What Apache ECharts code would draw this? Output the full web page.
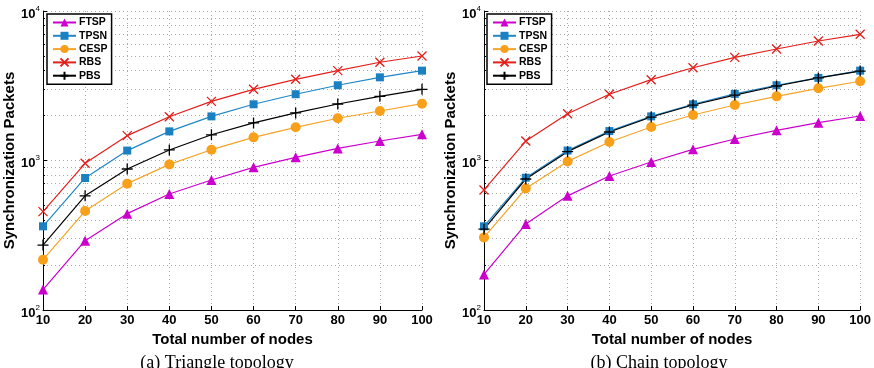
<!DOCTYPE html>
<html><head><meta charset="utf-8">
<script src="https://cdn.jsdelivr.net/npm/echarts@6/dist/echarts.min.js"></script>
<style>html,body{margin:0;padding:0;background:#fff}#c{width:874px;height:368px}</style>
</head><body><div id="c"></div>
<script>
// ---- data ----
const nodes = [10, 20, 30, 40, 50, 60, 70, 80, 90, 100];
const seriesNames = ['FTSP', 'TPSN', 'CESP', 'RBS', 'PBS'];
// (a) Triangle topology
const triFTSP = [137, 291, 441, 597, 741, 900, 1050, 1205, 1350, 1496];
const triTPSN = [363, 764, 1165, 1566, 1973, 2377, 2775, 3187, 3600, 3990];
const triCESP = [217, 459, 700, 942, 1181, 1428, 1667, 1916, 2143, 2399];
const triRBS  = [455, 958, 1466, 1963, 2487, 2994, 3491, 3990, 4540, 5000];
const triPBS  = [272, 580, 877, 1176, 1486, 1784, 2080, 2388, 2685, 2994];
// (b) Chain topology
const chainFTSP = [173, 376, 580, 787, 977, 1188, 1393, 1592, 1791, 1985];
const chainTPSN = [363, 767, 1165, 1573, 1973, 2377, 2790, 3187, 3570, 3990];
const chainCESP = [306, 649, 986, 1330, 1676, 2015, 2350, 2685, 3040, 3388];
const chainRBS  = [635, 1350, 2056, 2775, 3472, 4172, 4895, 5570, 6300, 6984];
const chainPBS  = [347, 752, 1146, 1551, 1953, 2350, 2740, 3150, 3570, 3965];
const xTitle = 'Total number of nodes';
const yTitle = 'Synchronization Packets';
const captions = ['(a) Triangle topology', '(b) Chain topology'];

// ---- styles ----
const SANS = '"Liberation Sans", Arial, Helvetica, sans-serif';
const SERIF = '"Liberation Serif", "Times New Roman", serif';
const styles = {
  FTSP: {color: '#cc00cc', symbol: 'triangle', size: 10, fill: '#cc00cc', border: 0},
  TPSN: {color: '#1f87c6', symbol: 'rect', size: 8, fill: '#1a80c2', border: 0},
  CESP: {color: '#f4a52a', symbol: 'circle', size: 10, fill: '#f8a01a', border: 0},
  RBS:  {color: '#e3201b', symbol: 'path://M0,0L10,10M10,0L0,10', size: 9, fill: 'rgba(0,0,0,0)', border: 1.3},
  PBS:  {color: '#000000', symbol: 'path://M5,0L5,10M0,5L10,5', size: 11, fill: 'rgba(0,0,0,0)', border: 1.3}
};

const panelData = [
  {FTSP: triFTSP, TPSN: triTPSN, CESP: triCESP, RBS: triRBS, PBS: triPBS},
  {FTSP: chainFTSP, TPSN: chainTPSN, CESP: chainCESP, RBS: chainRBS, PBS: chainPBS}
];

const grids = [
  {left: 43, right: 452, top: 11, bottom: 58},
  {left: 484, right: 11, top: 11, bottom: 58}
];

const gridColor = '#a8a8a8';

function xAxisOf(i) {
  return {
    gridIndex: i, type: 'value', min: 10, max: 100, interval: 10,
    name: xTitle, nameLocation: 'middle', nameGap: 16,
    nameTextStyle: {fontFamily: SANS, fontWeight: 'bold', fontSize: 15, color: '#000'},
    axisLine: {lineStyle: {color: '#000', width: 1}},
    axisTick: {inside: true, length: 4, lineStyle: {color: '#000'}},
    axisLabel: {fontFamily: SANS, fontWeight: 'bold', fontSize: 13, color: '#000', margin: 4},
    splitLine: {show: true, lineStyle: {type: [1, 3], color: gridColor, width: 1}}
  };
}
function yAxisOf(i) {
  return {
    gridIndex: i, type: 'log', logBase: 10, min: 100, max: 10000,
    name: yTitle, nameLocation: 'middle', nameGap: 26, nameRotate: 90,
    nameTextStyle: {fontFamily: SANS, fontWeight: 'bold', fontSize: 15, color: '#000'},
    axisLine: {show: true, lineStyle: {color: '#000', width: 1}},
    axisTick: {inside: true, length: 4, lineStyle: {color: '#000'}},
    minorTick: {show: true, splitNumber: 9, length: 2, lineStyle: {color: '#000'}},
    minorSplitLine: {show: true, lineStyle: {type: [1, 3], color: gridColor, width: 1}},
    axisLabel: {
      margin: 3,
      formatter: function (v) {
        const e = Math.round(Math.log10(v));
        return '{b|10}{s|' + e + '}';
      },
      rich: {
        b: {fontFamily: SANS, fontWeight: 'bold', fontSize: 13, color: '#000', lineHeight: 13, padding: [6, 0, 0, 0]},
        s: {fontFamily: SANS, fontSize: 8, color: '#000', lineHeight: 8, verticalAlign: 'top'}
      }
    },
    splitLine: {show: true, lineStyle: {type: [1, 3], color: gridColor, width: 1}}
  };
}

const series = [];
for (let p = 0; p < 2; p++) {
  seriesNames.forEach(function (name) {
    const st = styles[name];
    const vals = panelData[p][name];
    series.push({
      name: name, type: 'line', xAxisIndex: p, yAxisIndex: p,
      data: nodes.map(function (x, k) { return [x, vals[k]]; }),
      symbol: st.symbol, symbolSize: st.size, showAllSymbol: true,
      lineStyle: {color: st.color, width: 1.2},
      itemStyle: {color: st.fill, borderColor: st.color, borderWidth: st.border},
      emphasis: {disabled: true},
      animation: false, z: 3
    });
  });
}

const legends = [47, 487].map(function (lx) {
  return {
    orient: 'vertical', left: lx, top: 14,
    data: seriesNames,
    itemWidth: 23, itemHeight: 10, itemGap: 2.3,
    padding: [3, 4, 3, 5],
    borderColor: '#000', borderWidth: 1.5, backgroundColor: '#fff',
    textStyle: {fontFamily: SANS, fontWeight: 'bold', fontSize: 10.5, color: '#000', padding: [0, 0, 0, -2]},
    selectedMode: false
  };
});

const chart = echarts.init(document.getElementById('c'), null, {renderer: 'canvas'});
chart.setOption({
  animation: false,
  backgroundColor: '#fff',
  grid: grids,
  xAxis: [xAxisOf(0), xAxisOf(1)],
  yAxis: [yAxisOf(0), yAxisOf(1)],
  legend: legends,
  series: series,
  graphic: [
    {type: 'text', x: 217, y: 354, style: {text: captions[0], font: '18px ' + SERIF, fill: '#000', textAlign: 'center'}},
    {type: 'text', x: 659, y: 354, style: {text: captions[1], font: '18px ' + SERIF, fill: '#000', textAlign: 'center'}}
  ]
});
</script>
</body></html>
